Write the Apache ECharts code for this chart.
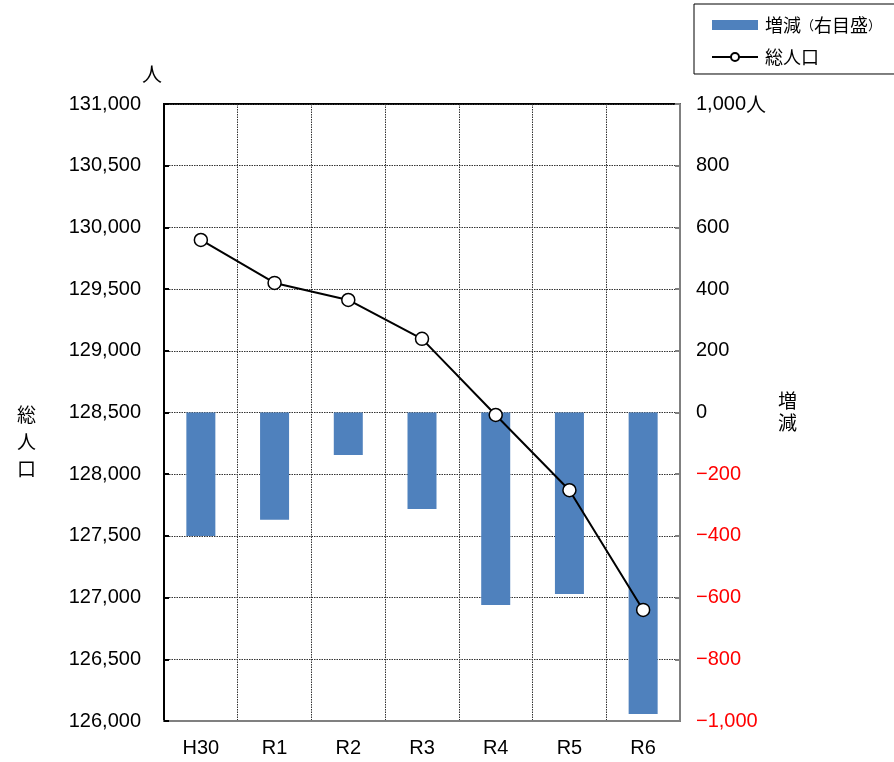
<!DOCTYPE html>
<html><head><meta charset="utf-8">
<script src="https://cdn.jsdelivr.net/npm/echarts@6/dist/echarts.min.js"></script>
<style>html,body{margin:0;padding:0;background:#fff}#c{width:894px;height:762px}</style>
</head><body><div id="c"></div>
<script>
const categories = ['H30','R1','R2','R3','R4','R5','R6'];
const changeValues = [-400, -348, -138, -313, -624, -588, -977];
const totalPopulation = [129898, 129550, 129412, 129097, 128480, 127870, 126900];
const seriesNames = ['増減（右目盛）', '総人口'];

const FONT = '"Liberation Sans", "Noto Sans CJK JP", sans-serif';
const JP = '"Noto Sans CJK JP", sans-serif';
function comma(v){ return Math.abs(v).toString().replace(/\B(?=(\d{3})+(?!\d))/g, ','); }

const chart = echarts.init(document.getElementById('c'));
chart.setOption({
  animation: false,
  textStyle: { fontFamily: FONT },
  grid: { left: 164, right: 214, top: 104, bottom: 41, show: true, borderColor: '#000', borderWidth: 2, backgroundColor: 'transparent' },
  legend: {
    orient: 'vertical', left: 694, top: 4, width: 200,
    padding: [12, 40, 8, 17], itemGap: 14,
    borderColor: '#000', borderWidth: 1,
    itemWidth: 46, itemHeight: 10,
    textStyle: { fontSize: 18, color: '#000', fontFamily: JP, padding: [0, 0, 0, 2],
      rich: { p: { fontSize: 13, fontFamily: JP, color: '#000' }, t: { fontSize: 18, fontFamily: JP, color: '#000' } } },
    formatter: n => n === seriesNames[0] ? '{t|増減}{p|（}{t|右目盛}{p|）}' : '{t|' + n + '}',
    data: [ { name: seriesNames[0], icon: 'rect' }, { name: seriesNames[1] } ]
  },
  xAxis: {
    type: 'category', data: categories,
    axisLine: { onZero: false, lineStyle: { color: '#808080', width: 2 } },
    axisTick: { show: false },
    axisLabel: { color: '#000', fontSize: 20, margin: 17 },
    splitLine: { show: true, lineStyle: { color: '#333', type: [1.5, 1], width: 1 } }
  },
  yAxis: [
    {
      type: 'value', min: 126000, max: 131000, interval: 500,
      axisLine: { show: true, lineStyle: { color: '#000', width: 2 } },
      axisTick: { show: true, inside: true, length: 5, lineStyle: { color: '#000', width: 2 } },
      axisLabel: { color: '#000', fontSize: 20, margin: 23, formatter: v => comma(v) },
      splitLine: { show: true, lineStyle: { color: '#333', type: [1.5, 1], width: 1 } }
    },
    {
      type: 'value', min: -1000, max: 1000, interval: 200, position: 'right',
      axisLine: { show: true, lineStyle: { color: '#808080', width: 2 } },
      axisTick: { show: true, inside: true, length: 5, lineStyle: { color: '#808080', width: 2 } },
      axisLabel: {
        fontSize: 20, margin: 16,
        formatter: v => v < 0 ? '{r|−' + comma(v) + '}' : (v === 1000 ? '{b|1,000}{u|人}' : '{b|' + comma(v) + '}'),
        rich: {
          r: { color: '#ff0000', fontSize: 20, fontFamily: FONT },
          b: { color: '#000', fontSize: 20, fontFamily: FONT },
          u: { color: '#000', fontSize: 20, fontFamily: JP }
        }
      },
      splitLine: { show: false }
    }
  ],
  graphic: [
    { type: 'text', left: 142, top: 64, style: { text: '人', fontSize: 20, fill: '#000', fontFamily: JP } },
    { type: 'text', left: 17, top: 401, style: { text: '総\n人\n口', fontSize: 19, lineHeight: 27, fill: '#000', fontFamily: JP } },
    { type: 'text', left: 778, top: 390, style: { text: '増\n減', fontSize: 19, lineHeight: 22, fill: '#000', fontFamily: JP } }
  ],
  series: [
    {
      name: seriesNames[0], type: 'bar', yAxisIndex: 1, data: changeValues,
      barWidth: 29, itemStyle: { color: '#4F81BD' }
    },
    {
      name: seriesNames[1], type: 'line', yAxisIndex: 0, data: totalPopulation,
      symbol: 'circle', symbolSize: 13,
      lineStyle: { color: '#000', width: 2 },
      itemStyle: { color: '#fff', borderColor: '#000', borderWidth: 1.5 }
    }
  ]
});
</script></body></html>
